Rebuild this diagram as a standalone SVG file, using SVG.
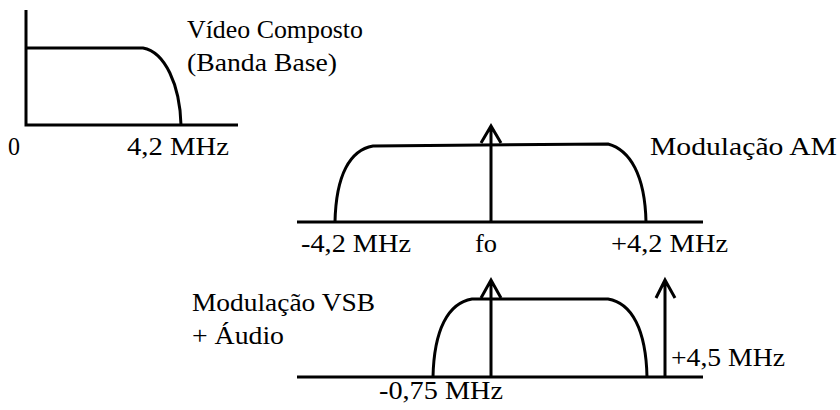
<svg xmlns="http://www.w3.org/2000/svg" width="840" height="410" viewBox="0 0 840 410">
<style>
.ln{fill:none;stroke:#000;stroke-width:3;stroke-linecap:butt;stroke-linejoin:miter}
.t{font-family:"Liberation Serif","DejaVu Serif",serif;font-size:25px;fill:#000}
</style>
<rect width="840" height="410" fill="#fff"/>
<g id="baseband">
<path class="ln" d="M26,10 V125 H238"/>
<path class="ln" d="M26,48 H143 C165,52 180,85 181,125"/>
<text class="t" x="187" y="38" textLength="176" lengthAdjust="spacingAndGlyphs">Vídeo Composto</text>
<text class="t" x="187" y="71" textLength="150" lengthAdjust="spacingAndGlyphs">(Banda Base)</text>
<text class="t" x="8" y="155" textLength="12" lengthAdjust="spacingAndGlyphs">0</text>
<text class="t" x="127" y="155" textLength="102" lengthAdjust="spacingAndGlyphs">4,2 MHz</text>
</g>
<g id="am">
<path class="ln" d="M297,222 H703"/>
<path class="ln" d="M335,222 C336,175 350,150 373,146 L608,144 C630,150 645,175 646,222"/>
<text class="t" x="650" y="155" textLength="187" lengthAdjust="spacingAndGlyphs">Modulação AM</text>
<text class="t" x="301" y="252" textLength="110" lengthAdjust="spacingAndGlyphs">-4,2 MHz</text>
<text class="t" x="475" y="252" textLength="22" lengthAdjust="spacingAndGlyphs">fo</text>
<text class="t" x="611" y="252" textLength="117" lengthAdjust="spacingAndGlyphs">+4,2 MHz</text>
</g>
<g id="vsb">
<path class="ln" d="M297,377 H703"/>
<path class="ln" d="M433,377 C434,330 448,303 472,299 L608,299 C632,303 646,330 647,377"/>
<text class="t" x="192" y="311" textLength="183" lengthAdjust="spacingAndGlyphs">Modulação VSB</text>
<text class="t" x="192" y="344" textLength="92" lengthAdjust="spacingAndGlyphs">+ Áudio</text>
<text class="t" x="671" y="366" textLength="114" lengthAdjust="spacingAndGlyphs">+4,5 MHz</text>
<text class="t" x="379" y="399" textLength="124" lengthAdjust="spacingAndGlyphs">-0,75 MHz</text>
</g>
<g id="connectors">
<path class="ln" d="M491,222 V126 M481,143 L491,126 L501,143"/>
<path class="ln" d="M491,377 V280 M481,298 L491,280 L501,298"/>
<path class="ln" d="M665,377 V280 M656,298 L665,280 L675,298"/>
</g>
</svg>
